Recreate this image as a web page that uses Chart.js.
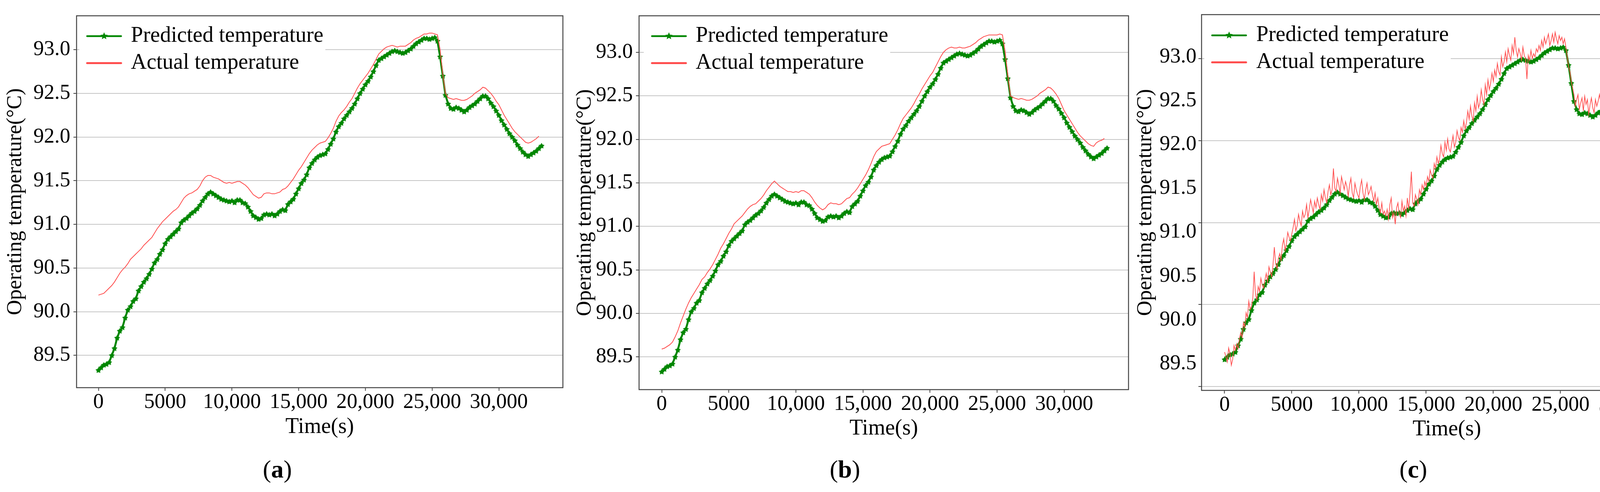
<!DOCTYPE html>
<html>
<head>
<meta charset="utf-8">
<script src="https://cdn.jsdelivr.net/npm/chart.js@4.4.1/dist/chart.umd.min.js"></script>
<style>
html,body{margin:0;padding:0;background:#fff;}
body{width:4360px;height:1259px;position:relative;overflow:hidden;font-family:'Liberation Serif','Times New Roman',Times,serif;}
.panel{position:absolute;top:0;height:1259px;}
.panel canvas{display:block;}
.lab{position:absolute;top:1166px;font-size:64px;line-height:70px;transform:translateX(-50%);color:#000;white-space:nowrap;}
</style>
</head>
<body>
<div class="panel" style="left:0px;width:1460px"><canvas id="ca" width="1460" height="1259"></canvas></div>
<div class="panel" style="left:1460px;width:1445px"><canvas id="cb" width="1445" height="1259"></canvas></div>
<div class="panel" style="left:2905px;width:1455px"><canvas id="cc" width="1455" height="1259"></canvas></div>
<div class="lab" style="left:710px">(<b>a</b>)</div>
<div class="lab" style="left:2163px">(<b>b</b>)</div>
<div class="lab" style="left:3618px">(<b>c</b>)</div>
<script>
// ---------------- data ----------------
// sampling times (s) for predicted and smooth actual series (200 s)
const timeS = [
0,200,400,600,800,1000,1200,1400,1600,1800,2000,2200,2400,2600,2800,3000,3200,3400,3600,3800,
4000,4200,4400,4600,4800,5000,5200,5400,5600,5800,6000,6200,6400,6600,6800,7000,7200,7400,7600,7800,
8000,8200,8400,8600,8800,9000,9200,9400,9600,9800,10000,10200,10400,10600,10800,11000,11200,11400,11600,11800,
12000,12200,12400,12600,12800,13000,13200,13400,13600,13800,14000,14200,14400,14600,14800,15000,15200,15400,15600,15800,
16000,16200,16400,16600,16800,17000,17200,17400,17600,17800,18000,18200,18400,18600,18800,19000,19200,19400,19600,19800,
20000,20200,20400,20600,20800,21000,21200,21400,21600,21800,22000,22200,22400,22600,22800,23000,23200,23400,23600,23800,
24000,24200,24400,24600,24800,25000,25200,25400,25600,25800,26000,26200,26400,26600,26800,27000,27200,27400,27600,27800,
28000,28200,28400,28600,28800,29000,29200,29400,29600,29800,30000,30200,30400,30600,30800,31000,31200,31400,31600,31800,
32000,32200,32400,32600,32800,33000,33200
];
// sampling times (s) for the noisy actual series of panel (c) (100 s)
const timeC = [
0,100,200,300,400,500,600,700,800,900,1000,1100,1200,1300,1400,1500,1600,1700,1800,1900,
2000,2100,2200,2300,2400,2500,2600,2700,2800,2900,3000,3100,3200,3300,3400,3500,3600,3700,3800,3900,
4000,4100,4200,4300,4400,4500,4600,4700,4800,4900,5000,5100,5200,5300,5400,5500,5600,5700,5800,5900,
6000,6100,6200,6300,6400,6500,6600,6700,6800,6900,7000,7100,7200,7300,7400,7500,7600,7700,7800,7900,
8000,8100,8200,8300,8400,8500,8600,8700,8800,8900,9000,9100,9200,9300,9400,9500,9600,9700,9800,9900,
10000,10100,10200,10300,10400,10500,10600,10700,10800,10900,11000,11100,11200,11300,11400,11500,11600,11700,11800,11900,
12000,12100,12200,12300,12400,12500,12600,12700,12800,12900,13000,13100,13200,13300,13400,13500,13600,13700,13800,13900,
14000,14100,14200,14300,14400,14500,14600,14700,14800,14900,15000,15100,15200,15300,15400,15500,15600,15700,15800,15900,
16000,16100,16200,16300,16400,16500,16600,16700,16800,16900,17000,17100,17200,17300,17400,17500,17600,17700,17800,17900,
18000,18100,18200,18300,18400,18500,18600,18700,18800,18900,19000,19100,19200,19300,19400,19500,19600,19700,19800,19900,
20000,20100,20200,20300,20400,20500,20600,20700,20800,20900,21000,21100,21200,21300,21400,21500,21600,21700,21800,21900,
22000,22100,22200,22300,22400,22500,22600,22700,22800,22900,23000,23100,23200,23300,23400,23500,23600,23700,23800,23900,
24000,24100,24200,24300,24400,24500,24600,24700,24800,24900,25000,25100,25200,25300,25400,25500,25600,25700,25800,25900,
26000,26100,26200,26300,26400,26500,26600,26700,26800,26900,27000,27100,27200,27300,27400,27500,27600,27700,27800,27900,
28000,28100,28200,28300,28400,28500,28600,28700,28800,28900,29000,29100,29200,29300,29400,29500,29600,29700,29800,29900,
30000,30100,30200,30300,30400,30500,30600,30700,30800,30900,31000,31100,31200,31300,31400,31500,31600,31700,31800,31900,
32000,32100,32200,32300,32400,32500,32600,32700,32800,32900,33000
];
// predicted temperature (same model output in all three panels)
const predicted = [
89.33,89.36,89.39,89.40,89.42, 89.50,89.58,89.70,89.78,89.82,
89.93,90.02,90.06,90.12,90.15, 90.24,90.29,90.34,90.38,90.43,
90.49,90.56,90.60,90.66,90.71, 90.78,90.83,90.86,90.89,90.92,
90.95,91.02,91.05,91.07,91.10, 91.13,91.15,91.18,91.22,91.27,
91.31,91.35,91.37,91.35,91.33, 91.31,91.29,91.28,91.27,91.26,
91.27,91.25,91.28,91.28,91.25, 91.24,91.20,91.15,91.10,91.08,
91.06,91.07,91.11,91.12,91.11, 91.12,91.10,91.12,91.15,91.17,
91.16,91.23,91.26,91.29,91.35, 91.41,91.47,91.51,91.57,91.65,
91.70,91.74,91.77,91.79,91.80, 91.81,91.86,91.92,91.98,92.06,
92.12,92.16,92.21,92.25,92.29, 92.33,92.38,92.44,92.50,92.55,
92.60,92.64,92.69,92.75,92.82, 92.88,92.90,92.92,92.94,92.96,
92.98,92.99,92.98,92.97,92.96, 92.97,92.99,93.01,93.04,93.07,
93.09,93.11,93.13,93.13,93.12, 93.13,93.14,93.10,92.92,92.70,
92.48,92.38,92.33,92.32,92.34, 92.33,92.31,92.29,92.31,92.34,
92.36,92.38,92.41,92.44,92.47, 92.47,92.44,92.39,92.35,92.30,
92.25,92.19,92.14,92.09,92.04, 92.00,91.96,91.91,91.87,91.83,
91.80,91.78,91.80,91.82,91.84, 91.87,91.90
];
// actual temperature, panel (a)
const actualA = [
90.19,90.20,90.21,90.24,90.27, 90.30,90.34,90.39,90.44,90.48,
90.51,90.55,90.60,90.63,90.66, 90.69,90.72,90.76,90.79,90.82,
90.85,90.90,90.95,90.99,91.03, 91.06,91.09,91.12,91.15,91.17,
91.20,91.25,91.30,91.33,91.35, 91.36,91.38,91.40,91.44,91.50,
91.54,91.56,91.56,91.54,91.53, 91.52,91.50,91.48,91.47,91.48,
91.47,91.48,91.49,91.49,91.47, 91.45,91.42,91.38,91.34,91.32,
91.30,91.31,91.35,91.36,91.36, 91.35,91.35,91.36,91.37,91.40,
91.41,91.44,91.48,91.52,91.57, 91.62,91.66,91.71,91.76,91.81,
91.85,91.88,91.91,91.93,91.94, 91.95,91.99,92.04,92.10,92.18,
92.24,92.28,92.31,92.35,92.40, 92.44,92.50,92.56,92.61,92.65,
92.69,92.73,92.78,92.83,92.89, 92.95,92.98,93.01,93.03,93.04,
93.05,93.04,93.03,93.04,93.04, 93.04,93.06,93.08,93.11,93.13,
93.14,93.16,93.18,93.18,93.19, 93.19,93.18,93.17,93.00,92.72,
92.50,92.45,92.44,92.43,92.44, 92.43,92.42,92.42,92.43,92.45,
92.47,92.50,92.52,92.54,92.57, 92.56,92.53,92.50,92.46,92.41,
92.37,92.31,92.25,92.20,92.15, 92.10,92.06,92.03,92.00,91.97,
91.94,91.93,91.94,91.96,91.98, 92.01
];
// actual temperature, panel (b)
const actualB = [
89.59,89.60,89.62,89.64,89.67, 89.73,89.80,89.89,89.97,90.05,
90.12,90.18,90.23,90.28,90.33, 90.39,90.42,90.47,90.51,90.56,
90.62,90.68,90.75,90.80,90.86, 90.92,90.97,91.03,91.06,91.09,
91.12,91.16,91.20,91.23,91.25, 91.26,91.29,91.32,91.36,91.41,
91.45,91.49,91.52,91.49,91.46, 91.44,91.42,91.40,91.40,91.39,
91.40,91.39,91.41,91.41,91.39, 91.37,91.33,91.28,91.24,91.21,
91.19,91.21,91.25,91.27,91.26, 91.26,91.25,91.26,91.29,91.32,
91.33,91.37,91.40,91.44,91.49, 91.54,91.59,91.65,91.72,91.80,
91.86,91.89,91.92,91.93,91.94, 91.95,92.00,92.05,92.11,92.18,
92.24,92.28,92.32,92.36,92.41, 92.47,92.52,92.58,92.63,92.68,
92.73,92.77,92.83,92.89,92.95, 93.00,93.03,93.05,93.06,93.05,
93.05,93.06,93.05,93.05,93.06, 93.07,93.09,93.11,93.14,93.16,
93.18,93.19,93.20,93.20,93.20, 93.20,93.21,93.20,93.01,92.74,
92.50,92.48,92.47,92.46,92.47, 92.46,92.45,92.45,92.46,92.48,
92.50,92.53,92.55,92.57,92.60, 92.59,92.56,92.52,92.47,92.40,
92.33,92.28,92.23,92.18,92.13, 92.08,92.04,92.01,91.98,91.95,
91.93,91.92,91.96,91.98,91.99, 92.01
];
// actual temperature, panel (c) (noisy measurement)
const actualC = [
89.42,89.36,89.30,89.47,89.40,89.26,89.33,89.50,89.44,89.52,
89.46,89.58,89.66,89.60,89.78,89.72,89.90,89.84,90.04,89.94,
89.98,90.08,90.40,90.12,90.06,90.22,90.16,90.32,90.24,90.20,
90.30,90.38,90.28,90.46,90.40,90.34,90.48,90.70,90.50,90.44,
90.56,90.62,90.54,90.72,90.80,90.66,90.74,90.88,90.82,90.78,
90.86,90.94,91.04,90.90,90.96,91.10,91.02,90.96,91.14,91.06,
91.10,91.22,91.06,91.16,91.28,91.20,91.12,91.26,91.18,91.30,
91.22,91.16,91.34,91.26,91.40,91.30,91.24,91.38,91.46,91.34,
91.40,91.66,91.42,91.38,91.54,91.46,91.36,91.56,91.48,91.40,
91.50,91.44,91.32,91.46,91.54,91.36,91.30,91.48,91.40,91.34,
91.30,91.44,91.52,91.36,91.28,91.40,91.48,91.34,91.38,91.44,
91.34,91.26,91.36,91.22,91.30,91.18,91.12,91.24,91.10,91.14,
91.08,91.16,91.04,91.22,91.30,91.06,91.12,90.98,91.18,91.24,
91.10,91.06,91.26,91.14,91.20,91.08,91.30,91.16,91.36,91.62,
91.24,91.20,91.34,91.28,91.22,91.40,91.34,91.46,91.40,91.50,
91.44,91.56,91.50,91.64,91.58,91.54,91.72,91.66,91.80,91.72,
91.78,91.94,91.84,91.80,91.98,91.88,92.02,91.90,91.86,91.96,
92.06,91.92,91.98,92.12,92.04,92.00,92.16,92.10,92.24,92.14,
92.22,92.36,92.26,92.42,92.30,92.24,92.46,92.36,92.54,92.40,
92.46,92.62,92.50,92.44,92.68,92.56,92.74,92.62,92.70,92.82,
92.72,92.86,92.78,92.94,92.84,92.80,93.02,92.90,92.96,93.08,
92.96,93.12,93.04,92.98,93.16,93.06,93.26,93.10,93.02,93.12,
93.06,92.98,93.14,93.04,93.00,92.75,93.04,92.98,93.10,93.00,
93.06,93.02,93.12,93.08,93.16,93.10,93.22,93.14,93.26,93.18,
93.24,93.30,93.16,93.22,93.30,93.20,93.32,93.24,93.18,93.28,
93.22,93.26,93.18,93.24,93.14,93.02,92.90,92.84,92.72,92.64,
92.56,92.42,92.50,92.56,92.38,92.46,92.52,92.36,92.54,92.44,
92.50,92.32,92.44,92.52,92.40,92.34,92.50,92.42,92.48,92.56,
92.46,92.62,92.54,92.48,92.66,92.58,92.78,92.60,92.54,92.68,
92.62,92.54,92.68,92.60,92.50,92.46,92.54,92.40,92.46,92.36,
92.40,92.30,92.26,92.34,92.20,92.14,92.24,92.10,92.18,92.08,
92.12,92.02,91.96,92.10,92.04,91.94,92.06,91.90,91.98,91.88,
91.92,91.84,91.98,91.90,92.06,91.94,92.14,92.00,91.98,92.08,
92.02
];
// tick values and labels
const xTicks = [0, 5000, 10000, 15000, 20000, 25000, 30000];
const xTickLabels = ['0', '5000', '10,000', '15,000', '20,000', '25,000', '30,000'];
const yTicks = [89.5, 90.0, 90.5, 91.0, 91.5, 92.0, 92.5, 93.0];
const yTickLabels = ['89.5', '90.0', '90.5', '91.0', '91.5', '92.0', '92.5', '93.0'];
const yGridC = [89, 90, 91, 92, 93];
const seriesNames = ['Predicted temperature', 'Actual temperature'];
const xTitle = 'Time(s)';
const yTitle = 'Operating temperature(°C)';

// ---------------- styling ----------------
const FONT = "'Liberation Serif', 'Times New Roman', Times, serif";
Chart.defaults.font.family = FONT;
Chart.defaults.color = '#000';
const GREEN = 'rgb(0,134,0)';
const RED = 'rgb(255,78,78)';
const GRID = '#c6c6c6';
const DARK = '#444';

function starPath(ctx, cx, cy, R, r) {
  ctx.beginPath();
  for (let k = 0; k < 10; k++) {
    const ang = -Math.PI / 2 + k * Math.PI / 5;
    const rad = (k % 2) ? r : R;
    const px = cx + rad * Math.cos(ang), py = cy + rad * Math.sin(ang);
    if (k === 0) ctx.moveTo(px, py); else ctx.lineTo(px, py);
  }
  ctx.closePath();
}
function starImage(size, color) {
  const c = document.createElement('canvas');
  c.width = size; c.height = size;
  const g = c.getContext('2d');
  g.fillStyle = color;
  starPath(g, size / 2, size / 2 + 0.6, size / 2, size / 3.6);
  g.fill();
  return c;
}
const STAR = starImage(16, GREEN);

const insideLegend = {
  id: 'insideLegend',
  afterDatasetsDraw(chart, args, o) {
    const {ctx, chartArea: a} = chart;
    ctx.save();
    ctx.font = o.fontSize + 'px ' + FONT;
    const tw = Math.max(...seriesNames.map(s => ctx.measureText(s).width));
    const bx = a.left + o.boxLeft, by = a.top + 3;
    ctx.fillStyle = '#fff';
    ctx.fillRect(bx, by, a.left + o.textX + tw + 5 - bx, o.boxH);
    const colors = [GREEN, RED], widths = [4.5, 5];
    seriesNames.forEach((name, i) => {
      const y = a.top + o.rows[i];
      const x0 = a.left + o.lineX, x1 = x0 + o.lineLen;
      ctx.strokeStyle = colors[i];
      ctx.lineWidth = widths[i];
      ctx.lineCap = 'round';
      ctx.beginPath(); ctx.moveTo(x0, y); ctx.lineTo(x1, y); ctx.stroke();
      if (i === 0) {
        ctx.fillStyle = GREEN;
        starPath(ctx, x0 + o.lineLen * 0.5, y, 10, 4.4);
        ctx.fill();
      }
      ctx.fillStyle = '#000';
      ctx.textBaseline = 'middle';
      ctx.textAlign = 'left';
      ctx.fillText(name, a.left + o.textX, y);
    });
    ctx.strokeStyle = DARK;
    ctx.lineWidth = 2.5;
    ctx.strokeRect(a.left, a.top, a.right - a.left, a.bottom - a.top);
    ctx.restore();
  }
};

function pts(times, vals) { return vals.map((v, i) => ({x: times[i], y: v})); }

function makeChart(id, p) {
  const scales = {
    x: {
      type: 'linear', position: 'bottom', min: p.xmin, max: 34800,
      afterFit: s => { s.height = 140; },
      afterBuildTicks: s => { s.ticks = xTicks.map(v => ({value: v})); },
      ticks: {
        callback: v => xTickLabels[xTicks.indexOf(v)],
        font: {size: 54, lineHeight: 1.1}, color: '#000', padding: 0,
        maxRotation: 0, autoSkip: false
      },
      grid: {drawOnChartArea: false, drawTicks: true, tickLength: 8, tickColor: DARK, tickWidth: 2},
      border: {display: false},
      title: {display: true, text: xTitle, font: {size: 56, lineHeight: 1.2}, color: '#000',
              padding: {top: 0, bottom: p.xTitlePad}}
    }
  };
  if (!p.split) {
    scales.y = {
      type: 'linear', position: 'left', min: p.ymin, max: p.ymax,
      afterFit: s => { s.width = p.yWidth; },
      afterBuildTicks: s => { s.ticks = yTicks.map(v => ({value: v})); },
      ticks: {callback: v => yTickLabels[yTicks.indexOf(v)], font: {size: 54}, color: '#000', padding: 8},
      grid: {color: GRID, lineWidth: 2, tickColor: DARK, tickWidth: 2, tickLength: 8},
      border: {display: false},
      title: {display: true, text: yTitle, font: {size: 54, lineHeight: 1.0}, color: '#000',
              padding: {top: p.yTitlePad, bottom: 0}}
    };
  } else {
    scales.y = {
      type: 'linear', position: 'left', weight: 0, min: p.ymin, max: p.ymax,
      afterFit: s => { s.width = 8; },
      afterBuildTicks: s => { s.ticks = yGridC.map(v => ({value: v})); },
      ticks: {display: false},
      grid: {color: GRID, lineWidth: 2, tickColor: DARK, tickWidth: 2, tickLength: 8},
      border: {display: false}
    };
    scales.yl = {
      type: 'linear', position: 'left', weight: 1, min: p.lmin, max: p.lmax,
      afterFit: s => { s.width = p.yWidth - 8; },
      afterBuildTicks: s => { s.ticks = yTicks.map(v => ({value: v})); },
      ticks: {callback: v => yTickLabels[yTicks.indexOf(v)], font: {size: 54}, color: '#000', padding: 5},
      grid: {display: false, drawTicks: false, drawOnChartArea: false},
      border: {display: false},
      title: {display: true, text: yTitle, font: {size: 54, lineHeight: 1.0}, color: '#000',
              padding: {top: p.yTitlePad, bottom: 0}}
    };
  }
  return new Chart(document.getElementById(id), {
    type: 'line',
    data: {
      datasets: [
        {label: seriesNames[1], data: pts(p.actualT, p.actual), yAxisID: 'y', order: 0,
         borderColor: RED, borderWidth: p.redWidth, pointRadius: 0, fill: false, tension: 0},
        {label: seriesNames[0], data: pts(timeS, predicted), yAxisID: 'y', order: 1,
         borderColor: GREEN, backgroundColor: GREEN, borderWidth: 5, pointStyle: STAR,
         pointRadius: 8, fill: false, tension: 0}
      ]
    },
    options: {
      responsive: false, animation: false, devicePixelRatio: 1, events: [],
      layout: {padding: {left: 0, top: p.top, right: p.right, bottom: p.bottom}},
      plugins: {
        legend: {display: false}, tooltip: {enabled: false},
        insideLegend: {fontSize: 56, boxLeft: p.boxLeft, lineX: p.lineX, lineLen: 87,
                       textX: p.textX, rows: p.rows, boxH: 148}
      },
      scales
    },
    plugins: [insideLegend]
  });
}

makeChart('ca', {actualT: timeS, actual: actualA, xmin: -1640, ymin: 89.13, ymax: 93.388,
  yWidth: 196, top: 26, right: 19, bottom: 127, xTitlePad: 5, yTitlePad: 13, redWidth: 2,
  boxLeft: 7, lineX: 27, textX: 139, rows: [52, 121]});
makeChart('cb', {actualT: timeS, actual: actualB, xmin: -1690, ymin: 89.124, ymax: 93.42,
  yWidth: 176, top: 26, right: 16, bottom: 122, xTitlePad: 6, yTitlePad: 11, redWidth: 2,
  boxLeft: 12, lineX: 33, textX: 145, rows: [52, 121]});
makeChart('cc', {actualT: timeC, actual: actualC, xmin: -1715, ymin: 88.953, ymax: 93.536,
  split: true, lmin: 89.194, lmax: 93.485, redWidth: 1.8,
  yWidth: 171, top: 25, right: 28, bottom: 120, xTitlePad: 6, yTitlePad: 1,
  boxLeft: 7, lineX: 27, textX: 140, rows: [53, 122]});
</script>
</body>
</html>
